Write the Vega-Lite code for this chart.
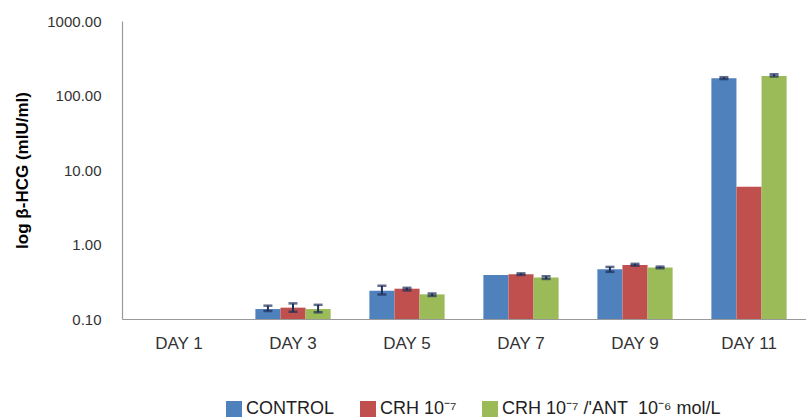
{
  "$schema": "https://vega.github.io/schema/vega-lite/v6.json",
  "width": 684,
  "height": 298,
  "autosize": {"type": "none"},
  "padding": {"left": 122, "top": 21, "right": 0, "bottom": 100},
  "background": "white",
  "config": {
    "view": {"stroke": null},
    "font": "Liberation Sans"
  },
  "data": {
    "values": [
      {"day": "DAY 3", "g": "CONTROL", "v": 0.136, "lo": 0.128, "hi": 0.151},
      {"day": "DAY 3", "g": "CRH 10⁻⁷\u00a0\u00a0\u00a0\u00a0", "v": 0.142, "lo": 0.125, "hi": 0.162},
      {"day": "DAY 3", "g": "CRH 10⁻⁷\u00a0/'ANT\u00a0\u00a010⁻⁶ mol/L", "v": 0.136, "lo": 0.123, "hi": 0.155},
      {"day": "DAY 5", "g": "CONTROL", "v": 0.24, "lo": 0.214, "hi": 0.28},
      {"day": "DAY 5", "g": "CRH 10⁻⁷\u00a0\u00a0\u00a0\u00a0", "v": 0.255, "lo": 0.242, "hi": 0.262},
      {"day": "DAY 5", "g": "CRH 10⁻⁷\u00a0/'ANT\u00a0\u00a010⁻⁶ mol/L", "v": 0.214, "lo": 0.204, "hi": 0.22},
      {"day": "DAY 7", "g": "CONTROL", "v": 0.39},
      {"day": "DAY 7", "g": "CRH 10⁻⁷\u00a0\u00a0\u00a0\u00a0", "v": 0.40, "lo": 0.39, "hi": 0.41},
      {"day": "DAY 7", "g": "CRH 10⁻⁷\u00a0/'ANT\u00a0\u00a010⁻⁶ mol/L", "v": 0.36, "lo": 0.345, "hi": 0.375},
      {"day": "DAY 9", "g": "CONTROL", "v": 0.465, "lo": 0.43, "hi": 0.50},
      {"day": "DAY 9", "g": "CRH 10⁻⁷\u00a0\u00a0\u00a0\u00a0", "v": 0.53, "lo": 0.52, "hi": 0.55},
      {"day": "DAY 9", "g": "CRH 10⁻⁷\u00a0/'ANT\u00a0\u00a010⁻⁶ mol/L", "v": 0.49, "lo": 0.48, "hi": 0.505},
      {"day": "DAY 11", "g": "CONTROL", "v": 170, "lo": 166, "hi": 176},
      {"day": "DAY 11", "g": "CRH 10⁻⁷\u00a0\u00a0\u00a0\u00a0", "v": 5.97},
      {"day": "DAY 11", "g": "CRH 10⁻⁷\u00a0/'ANT\u00a0\u00a010⁻⁶ mol/L", "v": 183, "lo": 180, "hi": 193}
    ]
  },
  "encoding": {
    "x": {
      "field": "day",
      "type": "nominal",
      "scale": {"domain": ["DAY 1", "DAY 3", "DAY 5", "DAY 7", "DAY 9", "DAY 11"], "paddingInner": 0.34, "paddingOuter": 0.17},
      "axis": {
        "title": null,
        "labelAngle": 0,
        "labelFontSize": 17,
        "labelColor": "#333333",
        "labelPadding": 16,
        "ticks": false,
        "domainColor": "#999999",
        "domainWidth": 1.2,
        "grid": false
      }
    },
    "xOffset": {
      "field": "g",
      "type": "nominal",
      "sort": ["CONTROL", "CRH 10⁻⁷\u00a0\u00a0\u00a0\u00a0", "CRH 10⁻⁷\u00a0/'ANT\u00a0\u00a010⁻⁶ mol/L"],
      "scale": {"paddingInner": 0, "paddingOuter": 0}
    }
  },
  "layer": [
    {
      "mark": {"type": "bar"},
      "encoding": {
        "y": {
          "field": "v",
          "type": "quantitative",
          "scale": {"type": "log", "domain": [0.1, 1000], "nice": false},
          "axis": {
            "title": "log β-HCG (mIU/ml)",
            "titleFontSize": 17,
            "titleFontWeight": "bold",
            "titleColor": "#000000",
            "titleX": -100,
            "titleY": 149,
            "titleAngle": -90,
            "titleAlign": "center",
            "titleBaseline": "middle",
            "values": [0.1, 1, 10, 100, 1000],
            "format": ".2f",
            "labelFontSize": 15,
            "labelColor": "#333333",
            "labelPadding": 21,
            "ticks": false,
            "grid": false,
            "domainColor": "#999999",
            "domainWidth": 1.2
          }
        },
        "y2": {"datum": 0.1},
        "color": {
          "field": "g",
          "type": "nominal",
          "sort": ["CONTROL", "CRH 10⁻⁷\u00a0\u00a0\u00a0\u00a0", "CRH 10⁻⁷\u00a0/'ANT\u00a0\u00a010⁻⁶ mol/L"],
          "scale": {"range": ["#4F81BD", "#C0504D", "#9BBB59"]},
          "legend": {
            "title": null,
            "orient": "none",
            "direction": "horizontal",
            "legendX": 103,
            "legendY": 379,
            "symbolType": "square",
            "symbolSize": 256,
            "symbolStrokeWidth": 0,
            "labelFontSize": 18,
            "labelColor": "#222222",
            "labelOffset": 3,
            "columnPadding": 24,
            "labelLimit": 400
          }
        }
      }
    },
    {
      "mark": {"type": "rule", "color": "#1F2D5A", "strokeWidth": 2},
      "encoding": {
        "y": {"field": "lo", "type": "quantitative"},
        "y2": {"field": "hi"}
      }
    },
    {
      "mark": {"type": "tick", "color": "#1F2D5A", "thickness": 2.5, "size": 9},
      "encoding": {
        "y": {"field": "lo", "type": "quantitative"}
      }
    },
    {
      "mark": {"type": "tick", "color": "#1F2D5A", "thickness": 2.5, "size": 9},
      "encoding": {
        "y": {"field": "hi", "type": "quantitative"}
      }
    }
  ]
}
